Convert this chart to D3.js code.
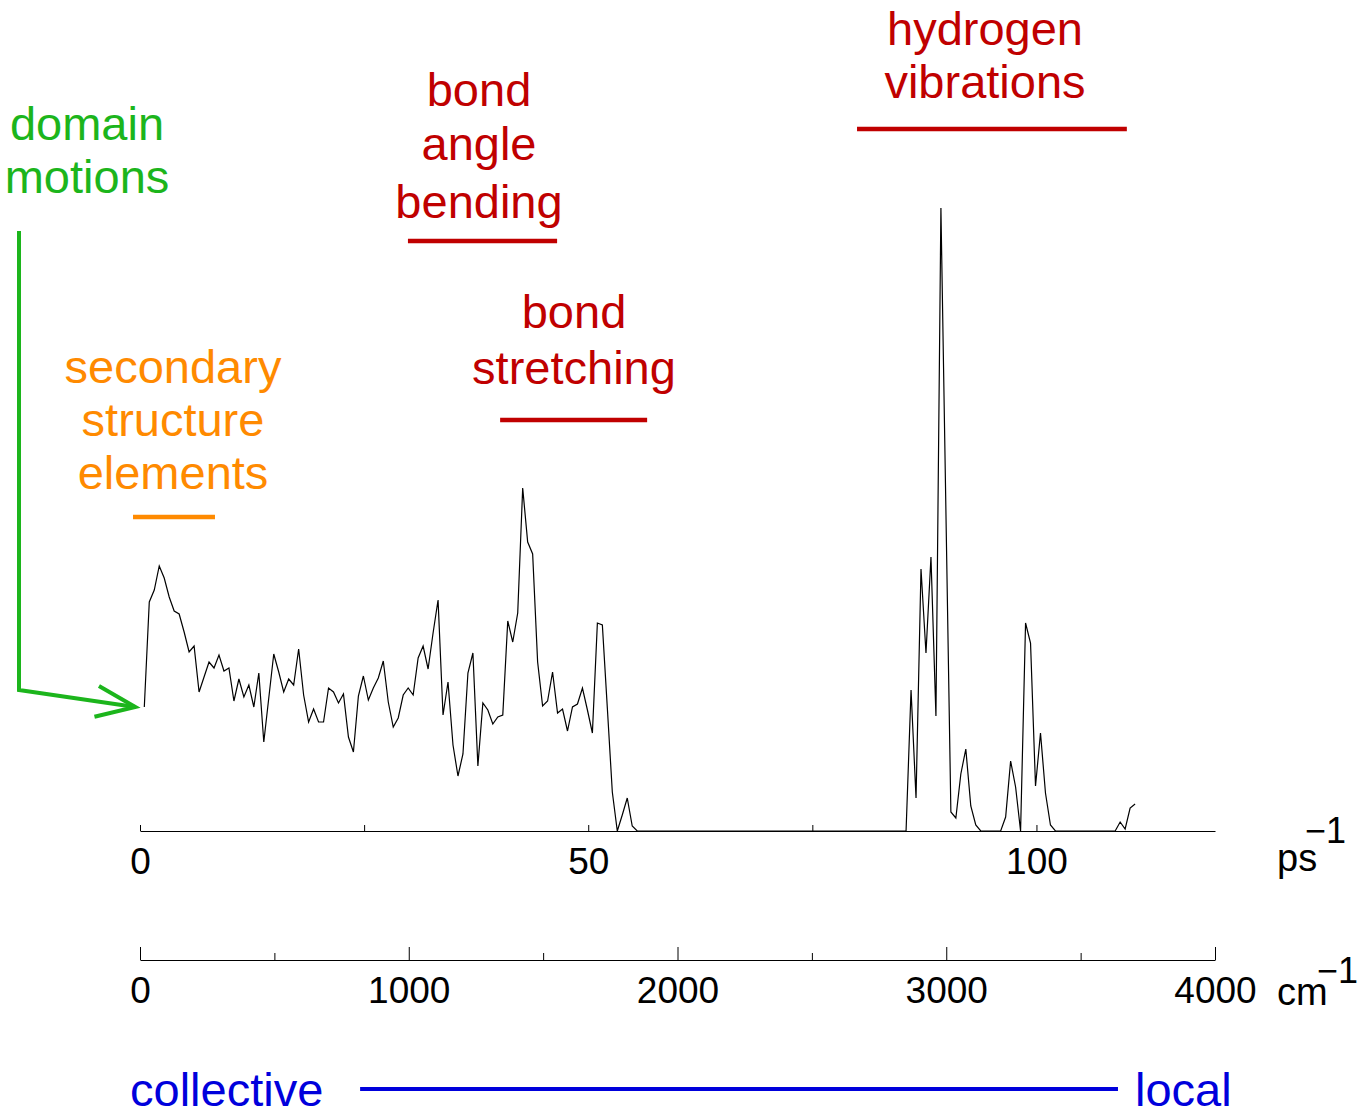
<!DOCTYPE html>
<html lang='en'>

<head>
   <meta charset='UTF-8'>
   <title>Protein vibration spectrum</title>
   <script src='https://d3js.org/d3.v7.min.js'></script>
   <style>
      body {
         margin: 0;
         background: #fff;
      }

      svg {
         display: block;
         font-family: 'Liberation Sans', Arial, sans-serif;
      }
   </style>
</head>

<body>
   <div id='svg-container'></div>
   <script>

      // spectrum sampled on a regular frequency grid (ps^-1)
      const freqStart = 0.48;
      const freqStep = 0.5554;
      const intensity = [
         12.4, 22.9, 24.1, 26.5, 25.3, 23.4, 22.0, 21.7, 19.9, 17.9,
         18.5, 13.9, 15.4, 16.9, 16.3, 17.6, 16.0, 16.3, 13.0, 15.2,
         13.4, 14.6, 12.4, 15.8, 8.9, 13.3, 17.7, 15.9, 13.9, 15.2,
         14.6, 18.2, 13.6, 10.9, 12.2, 10.9, 10.9, 14.3, 13.9, 12.8,
         13.7, 9.4, 7.9, 13.5, 15.5, 13.1, 14.3, 15.3, 17.0, 12.9,
         10.4, 11.3, 13.6, 14.3, 13.6, 17.3, 18.5, 16.2, 19.8, 23.1,
         11.6, 14.9, 8.6, 5.5, 7.7, 15.8, 17.8, 6.5, 12.8, 12.1,
         10.7, 11.4, 11.6, 21.0, 18.9, 21.8, 34.3, 28.9, 27.7, 16.9,
         12.5, 13.0, 15.9, 11.8, 12.2, 10.0, 12.4, 12.7, 14.3, 12.1,
         9.8, 20.8, 20.6, 12.3, 3.9, 0, 1.6, 3.3, 0.5, 0,
         0, 0, 0, 0, 0, 0, 0, 0, 0, 0,
         0, 0, 0, 0, 0, 0, 0, 0, 0, 0,
         0, 0, 0, 0, 0, 0, 0, 0, 0, 0,
         0, 0, 0, 0, 0, 0, 0, 0, 0, 0,
         0, 0, 0, 0, 0, 0, 0, 0, 0, 0,
         0, 0, 0, 0, 14.1, 3.3, 26.2, 17.8, 27.4, 11.5,
         62.3, 32.1, 1.9, 1.3, 5.7, 8.2, 2.5, 0.6, 0, 0,
         0, 0, 0, 1.4, 7.0, 4.4, 0, 20.8, 18.8, 4.5,
         9.8, 3.8, 0.6, 0, 0, 0, 0, 0, 0, 0,
         0, 0, 0, 0, 0, 0, 0.9, 0.2, 2.3, 2.7
      ];

      const cmPerPs = 33.356;
      const psTicks = [0, 25, 50, 75, 100];
      const psLabels = [0, 50, 100];
      const cmTicks = [0, 500, 1000, 1500, 2000, 2500, 3000, 3500, 4000];
      const cmLabels = [0, 1000, 2000, 3000, 4000];

      // annotation bands, in cm^-1
      const bandNames = ['secondary', 'angle', 'stretch', 'hydrogen'];
      const bandRanges = [[-26, 279], [997, 1552], [1340, 1887], [2668, 3672]];
      const bandText = [
         ['secondary', 'structure', 'elements'],
         ['bond', 'angle', 'bending'],
         ['bond', 'stretching'],
         ['hydrogen', 'vibrations']
      ];
      const collectiveRange = [819, 3639];

      const W = 1369, H = 1111;
      const left = 140, right = 1215;
      const baseY = 831, topY = 208;
      const cmAxisY = 960;

      const red = '#c00000', orange = '#ff8a00', green = '#1cb51c', blue = '#0000dc';

      const svg = d3.select('#svg-container').append('svg').attr('width', W).attr('height', H);

      const x = d3.scaleLinear().domain([0, 4000 / cmPerPs]).range([left, right]);
      const xCm = d3.scaleLinear().domain([0, 4000]).range([left, right]);
      const y = d3.scaleLinear().domain([0, 62.3]).range([baseY, topY]);

      // ps^-1 axis
      const psAxis = svg.append('g').attr('transform', `translate(0, ${baseY})`)
         .call(d3.axisBottom(x).tickValues(psTicks).tickSize(-6).tickSizeOuter(0).tickPadding(17)
            .tickFormat(d => psLabels.includes(d) ? d : ''));
      psAxis.selectAll('text').attr('font-size', 37).attr('fill', '#000');
      psAxis.selectAll('line, path').attr('stroke', '#000').attr('stroke-width', 1);
      psAxis.attr('font-family', null);

      // cm^-1 axis
      const cmAxis = svg.append('g').attr('transform', `translate(0, ${cmAxisY})`)
         .call(d3.axisBottom(xCm).tickValues(cmTicks).tickSize(-7).tickSizeOuter(0).tickPadding(17)
            .tickFormat(d => cmLabels.includes(d) ? d : ''));
      cmAxis.selectAll('.tick line').attr('y2', d => cmLabels.includes(d) ? -13 : -7);
      cmAxis.selectAll('text').attr('font-size', 37).attr('fill', '#000');
      cmAxis.selectAll('line, path').attr('stroke', '#000').attr('stroke-width', 1);
      cmAxis.attr('font-family', null);

      // unit labels
      svg.append('text').attr('x', 1277).attr('y', 871).attr('font-size', 38).text('ps');
      svg.append('text').attr('x', 1305).attr('y', 843).attr('font-size', 36).text('\u22121');
      svg.append('text').attr('x', 1277).attr('y', 1005).attr('font-size', 38).text('cm');
      svg.append('text').attr('x', 1317).attr('y', 983).attr('font-size', 36).text('\u22121');

      // spectrum
      const line = d3.line()
         .x((d, i) => x(freqStart + i * freqStep))
         .y(d => y(d));
      svg.append('path')
         .attr('d', line(intensity))
         .attr('fill', 'none')
         .attr('stroke', '#000')
         .attr('stroke-width', 1.2);

      // bands with their labels
      const bandColor = [orange, red, red, red];
      const bandY = [517, 241, 420, 129];
      const textBase = [[383, 436, 489], [106, 160, 218], [328, 384], [45, 98]];
      const textCenter = [173, 479, 574, 985];
      bandNames.forEach((name, i) => {
         svg.append('line')
            .attr('x1', xCm(bandRanges[i][0])).attr('x2', xCm(bandRanges[i][1]))
            .attr('y1', bandY[i]).attr('y2', bandY[i])
            .attr('stroke', bandColor[i]).attr('stroke-width', 4.5);
         bandText[i].forEach((t, j) => {
            svg.append('text')
               .attr('x', textCenter[i]).attr('y', textBase[i][j])
               .attr('text-anchor', 'middle').attr('font-size', 47)
               .attr('fill', bandColor[i]).text(t);
         });
      });

      // domain motions arrow to the lowest frequency
      const tipX = x(freqStart) - 9, tipY = y(intensity[0]);
      svg.append('polyline')
         .attr('points', `19,231 19,690 ${tipX},${tipY}`)
         .attr('fill', 'none').attr('stroke', green).attr('stroke-width', 4);
      const ang = Math.atan2(690 - tipY, 19 - tipX);
      const barb = 42, spread = 0.38;
      svg.append('polyline')
         .attr('points', `${tipX + barb * Math.cos(ang - spread)},${tipY + barb * Math.sin(ang - spread)} ${tipX},${tipY} ${tipX + barb * Math.cos(ang + spread)},${tipY + barb * Math.sin(ang + spread)}`)
         .attr('fill', 'none').attr('stroke', green).attr('stroke-width', 4);
      ['domain', 'motions'].forEach((t, j) => {
         svg.append('text').attr('x', 87).attr('y', [140, 193][j])
            .attr('text-anchor', 'middle').attr('font-size', 47).attr('fill', green).text(t);
      });

      // collective <-> local scale
      svg.append('line')
         .attr('x1', xCm(collectiveRange[0])).attr('x2', xCm(collectiveRange[1]))
         .attr('y1', 1089).attr('y2', 1089)
         .attr('stroke', blue).attr('stroke-width', 4);
      svg.append('text').attr('x', 130).attr('y', 1106).attr('font-size', 47).attr('fill', blue).text('collective');
      svg.append('text').attr('x', 1135).attr('y', 1106).attr('font-size', 47).attr('fill', blue).text('local');

   </script>
</body>

</html>
